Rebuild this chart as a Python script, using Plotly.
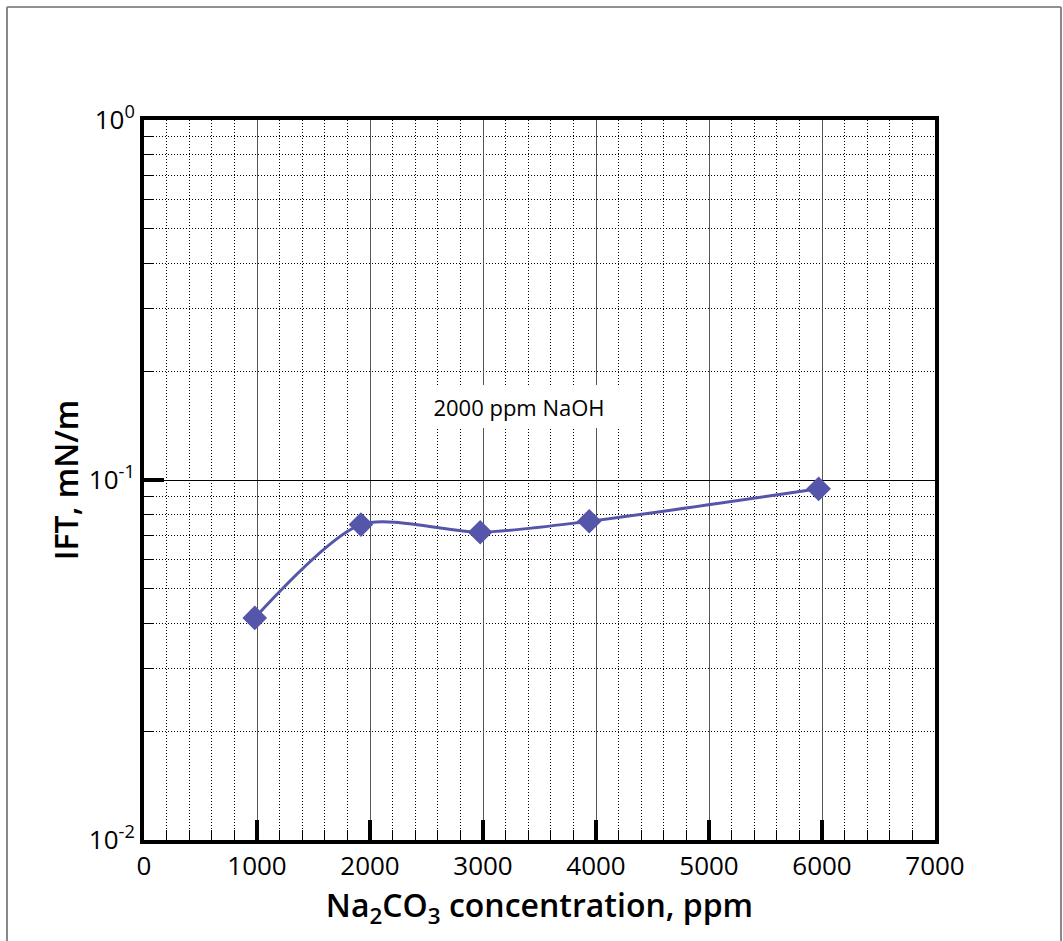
import math
import plotly.graph_objects as go

# Data
na2co3_ppm = [980, 1920, 2975, 3940, 5970]
ift_mN_m = [0.0414, 0.0752, 0.0716, 0.0768, 0.0945]

x_tickvals = [0, 1000, 2000, 3000, 4000, 5000, 6000, 7000]
x_ticktext = ["0", "1000", "2000", "3000", "4000", "5000", "6000", "7000"]
y_tickvals = [0.01, 0.1, 1]
y_ticktext = ["10<sup>-2</sup>", "10<sup>-1</sup>", "10<sup>0</sup>"]
y_minor_vals = [k * d for d in (0.01, 0.1) for k in range(2, 10)]

annotation_text = "2000 ppm NaOH"
annotation_x = 3320
annotation_y = 0.160

FONT = "Open Sans"
LINE_COLOR = "#5555AA"

fig = go.Figure()
fig.add_trace(go.Scatter(
    x=na2co3_ppm, y=ift_mN_m,
    mode="lines+markers",
    line=dict(color=LINE_COLOR, width=3, shape="spline", smoothing=0.75),
    marker=dict(symbol="diamond", size=19, color=LINE_COLOR,
                line=dict(width=0)),
    showlegend=False,
))

fig.add_annotation(
    x=annotation_x, y=math.log10(annotation_y), xref="x", yref="y",
    text=annotation_text, showarrow=False,
    font=dict(family=FONT, size=22, color="black"),
    bgcolor="white", width=200, height=43, borderpad=0, borderwidth=0,
)

fig.update_xaxes(
    range=[0, 7000],
    tickmode="array", tickvals=x_tickvals, ticktext=x_ticktext,
    ticks="inside", ticklen=20, tickwidth=4, tickcolor="black",
    showline=True, linewidth=4, linecolor="black", mirror=True,
    showgrid=True, gridcolor="#555555", gridwidth=1,
    zeroline=False,
    tickfont=dict(family=FONT, size=26, color="black"),
    minor=dict(dtick=200, tick0=0, ticks="inside", ticklen=10, tickwidth=1,
               tickcolor="black", showgrid=True, gridcolor="black",
               gridwidth=1, griddash="1px,2px"),
    title=dict(text="Na<sub>2</sub>CO<sub>3</sub> concentration, ppm",
               font=dict(family=FONT, size=32, color="black", weight=600),
               standoff=1),
)
fig.update_yaxes(
    type="log", range=[-2, 0],
    tickmode="array", tickvals=y_tickvals, ticktext=y_ticktext,
    ticks="inside", ticklen=20, tickwidth=4, tickcolor="black",
    showline=True, linewidth=4, linecolor="black", mirror=True,
    showgrid=True, gridcolor="black", gridwidth=1,
    zeroline=False,
    tickfont=dict(family=FONT, size=26, color="black"),
    minor=dict(tickmode="array", tickvals=y_minor_vals, ticks="inside",
               ticklen=10, tickwidth=1, tickcolor="black", showgrid=True,
               gridcolor="black", gridwidth=1, griddash="1px,2px"),
    title=dict(text="IFT, mN/m",
               font=dict(family=FONT, size=32, color="black", weight=600),
               standoff=2),
)

W, H = 1063, 941
ML, MR, MT, MB = 144, 128, 120, 101
pw, ph = W - ML - MR, H - MT - MB


def px_to_paper_x(px):
    return (px - ML) / pw


def px_to_paper_y(py):
    return (H - MB - py) / ph


# outer frame of the figure
fig.add_shape(type="line", xref="paper", yref="paper",
              x0=px_to_paper_x(7), x1=px_to_paper_x(1061),
              y0=px_to_paper_y(7), y1=px_to_paper_y(7),
              line=dict(color="#222222", width=1))
fig.add_shape(type="line", xref="paper", yref="paper",
              x0=px_to_paper_x(7), x1=px_to_paper_x(7),
              y0=px_to_paper_y(7), y1=px_to_paper_y(941),
              line=dict(color="#888888", width=2))
fig.add_shape(type="line", xref="paper", yref="paper",
              x0=px_to_paper_x(1061), x1=px_to_paper_x(1061),
              y0=px_to_paper_y(7), y1=px_to_paper_y(941),
              line=dict(color="#888888", width=2))

fig.update_layout(
    width=W, height=H,
    margin=dict(l=ML, r=MR, t=MT, b=MB),
    paper_bgcolor="white", plot_bgcolor="white",
    font=dict(family=FONT, color="black"),
)

fig.write_html("out.html")
